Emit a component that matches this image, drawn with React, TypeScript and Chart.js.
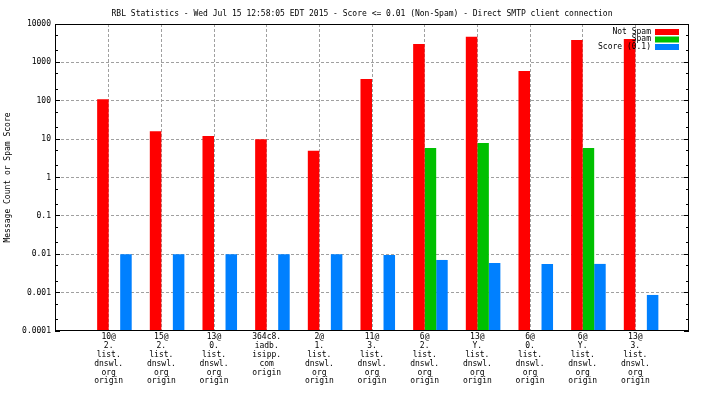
import React, { useEffect, useRef } from 'react';
import { Chart, registerables } from 'chart.js';

Chart.register(...registerables);

const TITLE =
  'RBL Statistics - Wed Jul 15 12:58:05 EDT 2015 - Score <= 0.01 (Non-Spam) - Direct SMTP client connection';
const Y_TITLE = 'Message Count or Spam Score';

const categories: string[][] = [
  ['10@', '2.', 'list.', 'dnswl.', 'org', 'origin'],
  ['15@', '2.', 'list.', 'dnswl.', 'org', 'origin'],
  ['13@', '0.', 'list.', 'dnswl.', 'org', 'origin'],
  ['364c8.', 'iadb.', 'isipp.', 'com', 'origin'],
  ['2@', '1.', 'list.', 'dnswl.', 'org', 'origin'],
  ['11@', '3.', 'list.', 'dnswl.', 'org', 'origin'],
  ['6@', '2.', 'list.', 'dnswl.', 'org', 'origin'],
  ['13@', 'Y.', 'list.', 'dnswl.', 'org', 'origin'],
  ['6@', '0.', 'list.', 'dnswl.', 'org', 'origin'],
  ['6@', 'Y.', 'list.', 'dnswl.', 'org', 'origin'],
  ['13@', '3.', 'list.', 'dnswl.', 'org', 'origin'],
];

const notSpam = [110, 16, 12, 10, 5, 370, 3000, 4650, 600, 3850, 4050];
const spam = [0, 0, 0, 0, 0, 0, 5.9, 7.9, 0, 5.9, 0];
const score = [0.01, 0.01, 0.01, 0.01, 0.01, 0.0096, 0.0071, 0.0059, 0.0056, 0.0056, 0.00087];

const seriesNames = ['Not Spam', 'Spam', 'Score (0.1)'];
const seriesColors = ['#ff0000', '#00c000', '#0080ff'];

const yTickValues = [0.0001, 0.001, 0.01, 0.1, 1, 10, 100, 1000, 10000];
const yTickLabels = ['0.0001', '0.001', '0.01', '0.1', '1', '10', '100', '1000', '10000'];

const FONT = '"DejaVu Sans Mono", "Liberation Mono", monospace';
const GRID = '#a0a0a0';

const pad = (arr: (number | null)[]) => [null, ...arr, null];

const gnuplotPlugin = {
  id: 'gnuplotDecor',
  afterDraw(chart: any) {
    const { ctx, chartArea: a, scales } = chart;
    ctx.save();
    ctx.setLineDash([]);
    ctx.strokeStyle = '#000';
    ctx.lineWidth = 1;
    // frame
    const x0 = a.left - 0.5;
    const x1 = a.right + 0.5;
    const y0 = a.top + 0.5;
    const y1 = a.bottom - 0.5;
    ctx.strokeRect(x0, y0, x1 - x0, y1 - y0);
    // inward ticks on y (left & mirrored right)
    const ys = scales.y;
    ctx.beginPath();
    ys.ticks.forEach((t: any) => {
      const p = Math.round(ys.getPixelForValue(t.value) - 0.5) + 0.5;
      const len = t.minor ? 2 : 4;
      ctx.moveTo(a.left - 1, p);
      ctx.lineTo(a.left + len, p);
      ctx.moveTo(a.right + 1, p);
      ctx.lineTo(a.right - len, p);
    });
    ctx.stroke();
    // title
    ctx.font = `8px ${FONT}`;
    ctx.fillStyle = '#000';
    ctx.textAlign = 'center';
    ctx.textBaseline = 'middle';
    ctx.fillText(TITLE, chart.width / 2 + 10, 13.5);
    // legend (inside top-right)
    const sets = chart.data.datasets.filter((d: any) => d.label);
    sets.forEach((d: any, i: number) => {
      const ry = a.top + 8 + i * 7.5;
      ctx.textAlign = 'right';
      ctx.fillStyle = '#000';
      ctx.fillText(d.label, a.right - 37, ry - 0.5);
      ctx.fillStyle = d.backgroundColor;
      ctx.fillRect(a.right - 33, ry - 3, 24, 6);
    });
    ctx.restore();
  },
};

export default function App() {
  const ref = useRef<HTMLCanvasElement>(null);

  useEffect(() => {
    document.body.style.margin = '0';
    const canvas = ref.current;
    if (!canvas) return;
    const labels = [[''], ...categories, ['']];
    const series = [notSpam, spam, score];
    const datasets: any[] = [
      {
        label: '',
        data: pad(categories.map(() => null)),
        backgroundColor: 'rgba(0,0,0,0)',
      },
      ...series.map((s, i) => ({
        label: seriesNames[i],
        data: pad(s),
        backgroundColor: seriesColors[i],
      })),
    ].map((d) => ({ ...d, borderWidth: 0, barPercentage: 1, categoryPercentage: 0.875 }));

    const chart = new Chart(canvas, {
      type: 'bar',
      data: { labels, datasets },
      options: {
        animation: false,
        responsive: false,
        devicePixelRatio: 1,
        layout: { padding: { top: 24, right: 16, left: 0, bottom: 0 } },
        plugins: {
          legend: { display: false },
          tooltip: { enabled: false },
          title: { display: false },
        },
        scales: {
          x: {
            type: 'category',
            offset: false,
            grid: {
              offset: false,
              drawTicks: false,
              lineWidth: 1,
              color: (c: any) =>
                c.index === 0 || c.index === labels.length - 1 ? 'rgba(0,0,0,0)' : GRID,
            },
            border: { display: false, dash: [3, 2] },
            ticks: {
              autoSkip: false,
              maxRotation: 0,
              minRotation: 0,
              padding: 2,
              color: '#000',
              font: { family: FONT, size: 8, lineHeight: 1.1 },
            },
            afterFit: (s: any) => {
              s.height = 65;
            },
          },
          y: {
            type: 'logarithmic',
            min: 0.0001,
            max: 10000,
            afterBuildTicks: (s: any) => {
              const t: any[] = [];
              yTickValues.forEach((v, i) => {
                t.push({ value: v });
                if (i < yTickValues.length - 1) {
                  t.push({ value: v * 2, minor: true });
                  t.push({ value: v * 5, minor: true });
                }
              });
              s.ticks = t.sort((p, q) => p.value - q.value);
            },
            ticks: {
              autoSkip: false,
              padding: 5,
              color: '#000',
              font: { family: FONT, size: 8 },
              callback: (value: any) => {
                const i = yTickValues.findIndex((v) => Math.abs(v - value) / v < 1e-6);
                return i >= 0 ? yTickLabels[i] : '';
              },
            },
            grid: {
              drawTicks: false,
              lineWidth: 1,
              color: (c: any) => {
                if (!c.tick || c.tick.minor) return 'rgba(0,0,0,0)';
                if (c.tick.value === yTickValues[0] || c.tick.value === yTickValues[yTickValues.length - 1])
                  return 'rgba(0,0,0,0)';
                return GRID;
              },
            },
            border: { display: false, dash: [3, 2] },
            title: {
              display: true,
              text: Y_TITLE,
              color: '#000',
              font: { family: FONT, size: 8, lineHeight: 1 },
              padding: { top: 4, bottom: 0 },
            },
            afterFit: (s: any) => {
              s.width = 56;
            },
          },
        },
      } as any,
      plugins: [gnuplotPlugin],
    });
    return () => chart.destroy();
  }, []);

  return (
    <div style={{ width: 704, height: 396, background: '#fff' }}>
      <canvas ref={ref} width={704} height={396} style={{ display: 'block' }} />
    </div>
  );
}
